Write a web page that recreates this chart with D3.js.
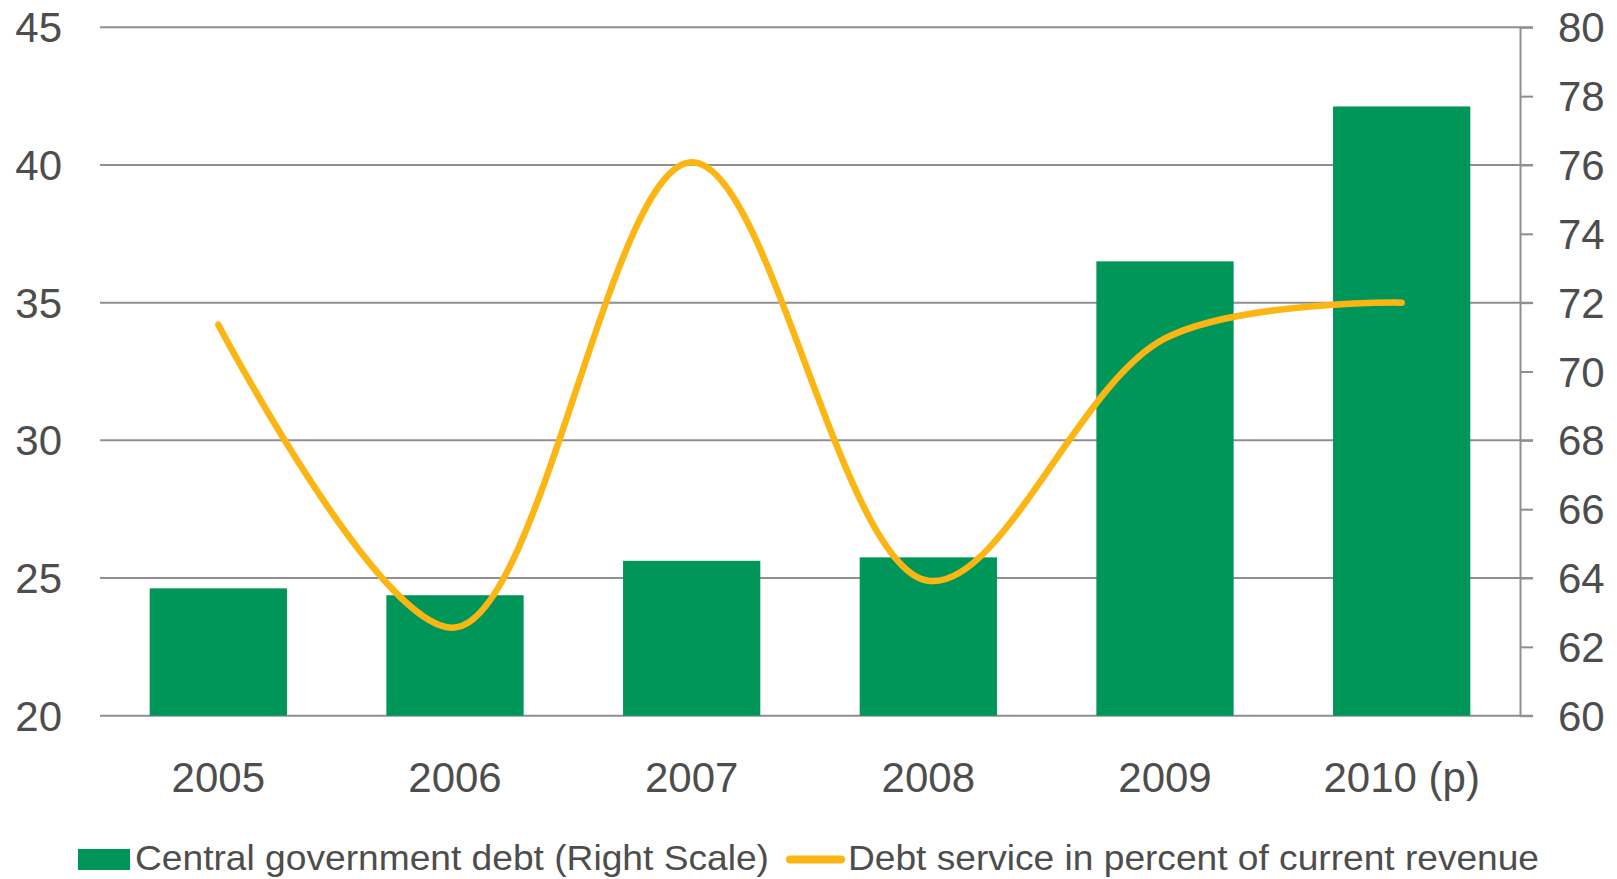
<!DOCTYPE html>
<html>
<head>
<meta charset="utf-8">
<script src="https://cdn.jsdelivr.net/npm/d3@7"></script>
<style>
  html, body { margin: 0; padding: 0; background: #fff; }
  svg { display: block; font-family: "Liberation Sans", Arial, sans-serif; }
</style>
</head>
<body>
<div id="chart"></div>
<script>
// Data
const categories = ['2005', '2006', '2007', '2008', '2009', '2010 (p)'];
const debtValues = [63.7, 63.5, 64.5, 64.6, 73.2, 77.7];       // right scale, bars
const serviceValues = [34.2, 23.2, 40.1, 24.9, 33.7, 35.0];    // left scale, line
const leftTicks = [20, 25, 30, 35, 40, 45];
const rightTicks = [60, 62, 64, 66, 68, 70, 72, 74, 76, 78, 80];
const legendLabels = ['Central government debt (Right Scale)', 'Debt service in percent of current revenue'];

const width = 1617;
const height = 879;
const margin = { top: 27.3, right: 97, bottom: 163.3, left: 100 };
const plotRight = width - margin.right;
const plotBottom = height - margin.bottom;

const green = '#00965a';
const orange = '#fbb614';
const textColor = '#4d4d4d';
const gridColor = '#8f8f8f';

const svg = d3.select('#chart')
  .append('svg')
  .attr('width', width)
  .attr('height', height);

// Scales
const x = d3.scaleBand()
  .domain(categories)
  .range([margin.left, plotRight])
  .paddingInner(0.42)
  .paddingOuter(0.21);

const yLeft = d3.scaleLinear()
  .domain([20, 45])
  .range([plotBottom, margin.top]);

const yRight = d3.scaleLinear()
  .domain([60, 80])
  .range([plotBottom, margin.top]);

// Gridlines (left scale)
svg.append('g')
  .selectAll('line')
  .data(leftTicks)
  .join('line')
  .attr('x1', margin.left)
  .attr('x2', plotRight + 13)
  .attr('y1', d => yLeft(d))
  .attr('y2', d => yLeft(d))
  .attr('stroke', gridColor)
  .attr('stroke-width', 2);

// Right axis: line + outward ticks
const rightAxis = svg.append('g')
  .attr('transform', `translate(${plotRight},0)`)
  .call(d3.axisRight(yRight).tickValues(rightTicks).tickSize(13).tickSizeOuter(0).tickFormat(''));
rightAxis.select('.domain').attr('stroke', gridColor).attr('stroke-width', 2);
rightAxis.selectAll('.tick line').attr('stroke', gridColor).attr('stroke-width', 2);

// Bars
svg.append('g')
  .selectAll('rect')
  .data(categories)
  .join('rect')
  .attr('x', d => x(d))
  .attr('width', x.bandwidth())
  .attr('y', (d, i) => yRight(debtValues[i]))
  .attr('height', (d, i) => plotBottom - yRight(debtValues[i]))
  .attr('fill', green);

// Smoothed line
const line = d3.line()
  .x((d, i) => x(categories[i]) + x.bandwidth() / 2)
  .y(d => yLeft(d))
  .curve(d3.curveCatmullRom.alpha(0.5));

svg.append('path')
  .datum(serviceValues)
  .attr('d', line)
  .attr('fill', 'none')
  .attr('stroke', orange)
  .attr('stroke-width', 6.5)
  .attr('stroke-linecap', 'round')
  .attr('stroke-linejoin', 'round');

// Left tick labels
svg.append('g')
  .selectAll('text')
  .data(leftTicks)
  .join('text')
  .attr('x', 62)
  .attr('y', d => yLeft(d))
  .attr('dy', '0.36em')
  .attr('text-anchor', 'end')
  .attr('fill', textColor)
  .style('font-size', '42px')
  .text(d => d);

// Right tick labels
svg.append('g')
  .selectAll('text')
  .data(rightTicks)
  .join('text')
  .attr('x', 1558)
  .attr('y', d => yRight(d))
  .attr('dy', '0.36em')
  .attr('text-anchor', 'start')
  .attr('fill', textColor)
  .style('font-size', '42px')
  .text(d => d);

// Category labels
svg.append('g')
  .selectAll('text')
  .data(categories)
  .join('text')
  .attr('x', d => x(d) + x.bandwidth() / 2)
  .attr('y', 792)
  .attr('text-anchor', 'middle')
  .attr('fill', textColor)
  .style('font-size', '42px')
  .text(d => d);

// Legend
const legend = svg.append('g');
legend.append('rect')
  .attr('x', 78).attr('y', 849)
  .attr('width', 52).attr('height', 21)
  .attr('fill', green);
legend.append('text')
  .attr('x', 135).attr('y', 870)
  .attr('fill', textColor)
  .style('font-size', '35px')
  .attr('textLength', 634)
  .attr('lengthAdjust', 'spacingAndGlyphs')
  .text(legendLabels[0]);
legend.append('line')
  .attr('x1', 790).attr('x2', 841)
  .attr('y1', 859.5).attr('y2', 859.5)
  .attr('stroke', orange)
  .attr('stroke-width', 8)
  .attr('stroke-linecap', 'round');
legend.append('text')
  .attr('x', 848).attr('y', 870)
  .attr('fill', textColor)
  .style('font-size', '35px')
  .attr('textLength', 691)
  .attr('lengthAdjust', 'spacingAndGlyphs')
  .text(legendLabels[1]);
</script>
</body>
</html>
